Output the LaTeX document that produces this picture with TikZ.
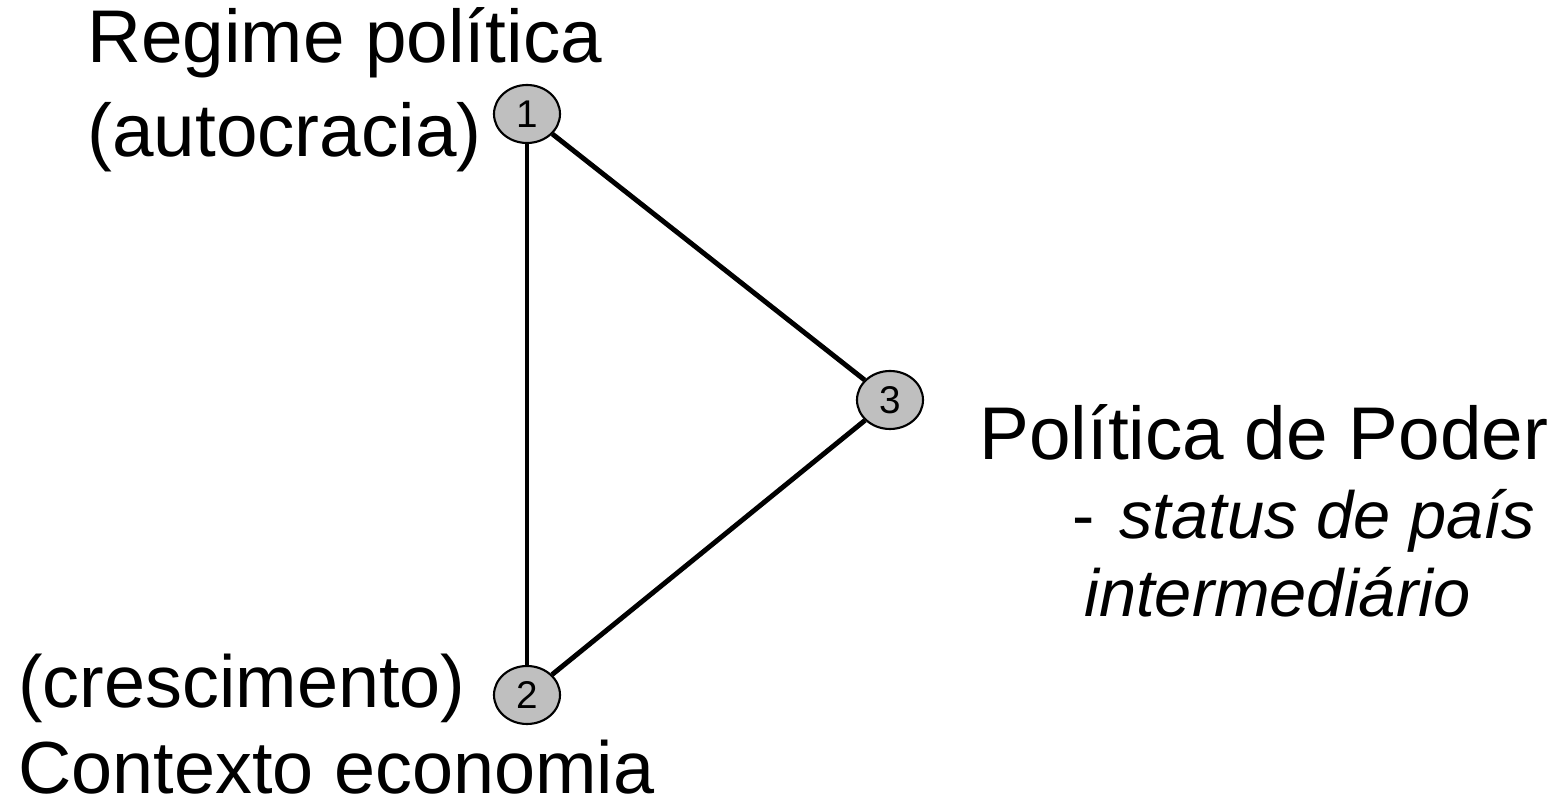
\documentclass[tikz,border=0pt]{standalone}
\usepackage{fontspec}
\setmainfont{Liberation Sans}
\usetikzlibrary{shapes.geometric}
\newcommand{\menor}{\fontsize{38}{44.7}\selectfont}
\tikzset{
    ponto/.style={ellipse, draw, fill=black!25, line width=1.2pt,
        minimum width=1.32cm, minimum height=1.16cm, inner sep=0pt,
        font=\fontsize{22}{22}\selectfont},
    rotulo/.style={align=left, inner sep=0pt, anchor=base west},
    aresta/.style={line width=2.8pt}
}
\begin{document}
\begin{tikzpicture}
    \useasboundingbox (0,0) rectangle (31.14,16.02);
    \node[ponto] (n1) at (10.54,13.74) {1};
    \node[ponto] (n2) at (10.54,2.12) {2};
    \node[ponto] (n3) at (17.8,8.02) {3};
    \draw[aresta] (n1) -- (n2);
    \draw[aresta] (n1) -- (n3);
    \draw[aresta] (n3) -- (n2);
    \node[rotulo, font=\fontsize{42.5}{53.5}\selectfont] (regime) at (1.74,12.88)
        {Regime política\\(autocracia)};
    \node[rotulo, font=\fontsize{42}{49.5}\selectfont] (economia) at (0.36,0.14)
        {(crescimento)\\Contexto economia};
    \node[rotulo, font=\fontsize{42.5}{44.7}\selectfont] (poder) at (19.58,3.68)
        {Política de Poder\\
        \hspace*{1.86cm}{\menor -\hspace{0.5cm}\textit{status de país}}\\
        \hspace*{2.1cm}{\menor\textit{intermediário}}};
\end{tikzpicture}
\end{document}
